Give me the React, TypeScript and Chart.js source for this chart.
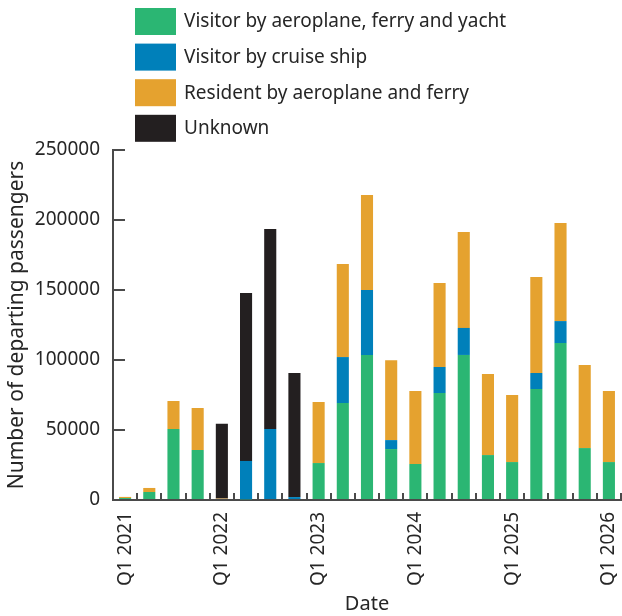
import React, { useEffect, useRef } from "react";
import { Chart, registerables } from "chart.js";

Chart.register(...registerables);

const quarters = [
  "Q1 2021", "Q2 2021", "Q3 2021", "Q4 2021",
  "Q1 2022", "Q2 2022", "Q3 2022", "Q4 2022",
  "Q1 2023", "Q2 2023", "Q3 2023", "Q4 2023",
  "Q1 2024", "Q2 2024", "Q3 2024", "Q4 2024",
  "Q1 2025", "Q2 2025", "Q3 2025", "Q4 2025",
  "Q1 2026",
];

const visitorAirFerryYacht = [1400, 5700, 50700, 35700, 700, 500, 0, 0, 26400, 69300, 103600, 36400, 25700, 76400, 103600, 32100, 27100, 79300, 112100, 37100, 27100];
const visitorCruise = [0, 0, 0, 0, 0, 27400, 50700, 2100, 0, 32800, 46400, 6400, 0, 18600, 19300, 0, 0, 11400, 15700, 0, 0];
const residentAirFerry = [800, 2900, 20000, 30000, 300, 0, 0, 0, 43600, 66400, 67900, 57100, 52100, 60000, 68600, 57900, 47900, 68600, 70000, 59300, 50700];
const unknown = [0, 0, 0, 0, 53500, 120000, 142900, 88600, 0, 0, 0, 0, 0, 0, 0, 0, 0, 0, 0, 0, 0];

const yTicks = [0, 50000, 100000, 150000, 200000, 250000];

const FONT = "'Noto Sans', sans-serif";
const TEXT = "#262626";
const AXIS = "#4a4a4a";

const legendPlugin = {
  id: "stackedLegend",
  afterDraw(chart: any) {
    const ctx = chart.ctx;
    ctx.save();
    ctx.font = `19px ${FONT}`;
    ctx.textBaseline = "middle";
    ctx.textAlign = "left";
    chart.data.datasets.forEach((ds: any, i: number) => {
      const top = 8 + i * 35.6;
      ctx.fillStyle = ds.backgroundColor;
      ctx.fillRect(135, top, 41, 27);
      ctx.fillStyle = TEXT;
      ctx.fillText(ds.label, 184, top + 14);
    });
    ctx.restore();
  },
};

export default function App() {
  const ref = useRef<HTMLCanvasElement | null>(null);

  useEffect(() => {
    if (!ref.current) return;
    const chart = new Chart(ref.current, {
      type: "bar",
      data: {
        labels: quarters,
        datasets: [
          { label: "Visitor by aeroplane, ferry and yacht", data: visitorAirFerryYacht, backgroundColor: "#2bb673" },
          { label: "Visitor by cruise ship", data: visitorCruise, backgroundColor: "#0080ba" },
          { label: "Resident by aeroplane and ferry", data: residentAirFerry, backgroundColor: "#e5a22f" },
          { label: "Unknown", data: unknown, backgroundColor: "#231f20" },
        ],
      },
      options: {
        responsive: false,
        animation: false,
        layout: { autoPadding: false, padding: { top: 150, right: 1, left: 0, bottom: 0 } },
        datasets: { bar: { categoryPercentage: 1, barPercentage: 0.5 } },
        plugins: {
          legend: { display: false },
          tooltip: { enabled: false },
        },
        scales: {
          x: {
            stacked: true,
            grid: { drawOnChartArea: false, drawTicks: true, tickLength: -7, color: AXIS, lineWidth: 2, offset: true },
            border: { color: AXIS, width: 2 },
            ticks: {
              autoSkip: false,
              minRotation: 90,
              maxRotation: 90,
              padding: 19,
              color: TEXT,
              font: { family: FONT, size: 19 },
              callback: function (this: any, value: any) {
                const l = quarters[value as number];
                return l.startsWith("Q1") ? l : "";
              },
            },
            title: { display: true, text: "Date", color: TEXT, font: { family: FONT, size: 20 }, padding: 0 },
            afterFit: (s: any) => { s.height = 116; s.paddingLeft = 0; s.paddingRight = 0; },
          },
          y: {
            stacked: true,
            min: 0,
            max: 250000,
            afterBuildTicks: (s: any) => { s.ticks = yTicks.map((v) => ({ value: v })); },
            grid: { drawOnChartArea: false, drawTicks: true, tickLength: -12, color: AXIS, lineWidth: 2 },
            border: { color: AXIS, width: 2 },
            ticks: {
              padding: 25,
              color: TEXT,
              font: { family: FONT, size: 19 },
              callback: (v: any) => String(v),
            },
            title: { display: true, text: "Number of departing passengers", color: TEXT, font: { family: FONT, size: 21 }, padding: 4 },
            afterFit: (s: any) => { s.width = 113; s.paddingTop = 0; s.paddingBottom = 0; },
          },
        },
      },
      plugins: [legendPlugin],
    });
    return () => chart.destroy();
  }, []);

  return (
    <canvas
      ref={ref}
      width={622}
      height={616}
      style={{ position: "fixed", left: 0, top: 0, display: "block" }}
    />
  );
}
